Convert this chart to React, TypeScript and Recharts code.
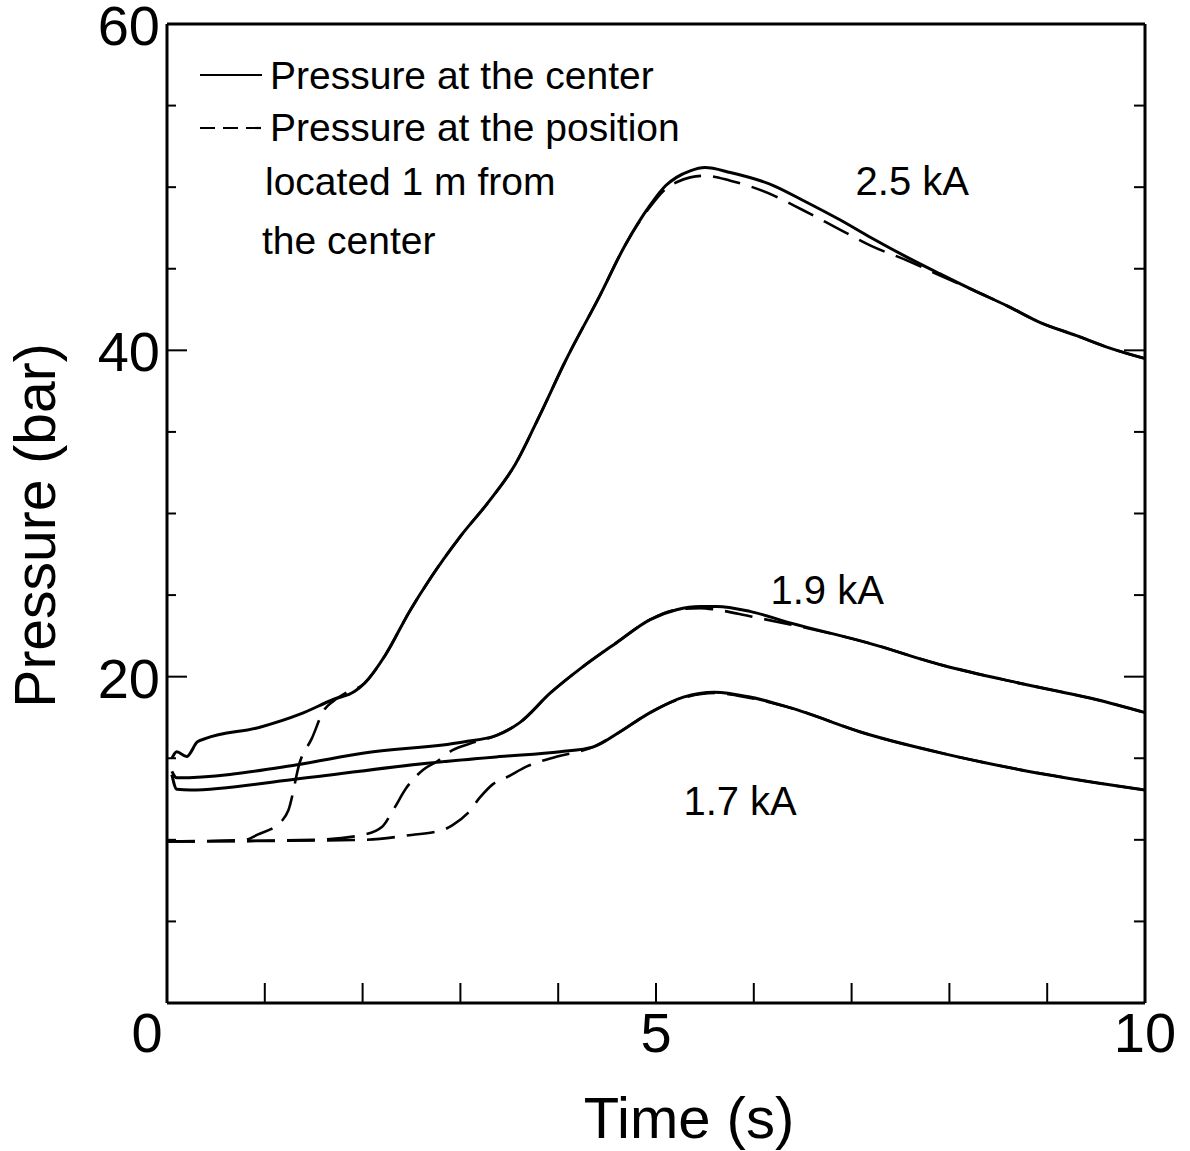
import { LineChart, Line, XAxis, YAxis, Legend, ReferenceDot, Label } from 'recharts';

const FONT = '"Liberation Sans", Arial, Helvetica, sans-serif';

// axis ticks
const timeTicks = [0, 1, 2, 3, 4, 5, 6, 7, 8, 9, 10];
const timeLabels = [0, 5, 10];
const pressureTicks = [0, 5, 10, 15, 20, 25, 30, 35, 40, 45, 50, 55, 60];
const pressureLabels = [20, 40, 60];

// pressure at the center (solid), t in s, p in bar
const center25 = [
    { t: 0.05, p: 15.0 }, { t: 0.1, p: 15.4 }, { t: 0.2, p: 15.1 }, { t: 0.31, p: 16.0 },
    { t: 0.39, p: 16.2 }, { t: 0.95, p: 16.9 }, { t: 1.36, p: 17.7 }, { t: 1.7, p: 18.6 },
    { t: 1.92, p: 19.1 }, { t: 2.02, p: 19.6 }, { t: 2.23, p: 21.3 }, { t: 2.48, p: 24.0 },
    { t: 2.69, p: 26.0 }, { t: 3.0, p: 28.6 }, { t: 3.3, p: 30.8 }, { t: 3.56, p: 33.0 },
    { t: 3.81, p: 36.0 }, { t: 4.07, p: 39.3 }, { t: 4.43, p: 43.4 }, { t: 4.68, p: 46.4 },
    { t: 4.94, p: 48.9 }, { t: 5.1, p: 50.1 }, { t: 5.21, p: 50.6 }, { t: 5.35, p: 51.0 },
    { t: 5.5, p: 51.2 }, { t: 5.76, p: 50.9 }, { t: 6.2, p: 50.1 }, { t: 6.5, p: 49.2 },
    { t: 6.88, p: 48.0 }, { t: 7.2, p: 46.9 }, { t: 7.57, p: 45.7 }, { t: 7.9, p: 44.7 },
    { t: 8.24, p: 43.7 }, { t: 8.6, p: 42.7 }, { t: 8.93, p: 41.7 }, { t: 9.3, p: 40.9 },
    { t: 9.61, p: 40.2 }, { t: 10.0, p: 39.5 },
];

const center19 = [
    { t: 0.05, p: 14.2 }, { t: 0.1, p: 13.8 }, { t: 1.33, p: 14.6 }, { t: 2.0, p: 15.3 },
    { t: 3.03, p: 16.0 }, { t: 3.37, p: 16.4 }, { t: 3.61, p: 17.2 }, { t: 3.92, p: 19.0 },
    { t: 4.25, p: 20.6 }, { t: 4.6, p: 22.1 }, { t: 4.94, p: 23.5 }, { t: 5.21, p: 24.1 },
    { t: 5.45, p: 24.3 }, { t: 5.62, p: 24.3 }, { t: 5.96, p: 24.0 }, { t: 6.37, p: 23.3 },
    { t: 7.15, p: 22.1 }, { t: 7.93, p: 20.7 }, { t: 8.72, p: 19.6 }, { t: 9.5, p: 18.6 },
    { t: 10.0, p: 17.8 },
];

const center17 = [
    { t: 0.05, p: 14.0 }, { t: 0.1, p: 13.1 }, { t: 0.24, p: 13.05 }, { t: 1.29, p: 13.7 },
    { t: 2.66, p: 14.7 }, { t: 3.4, p: 15.1 }, { t: 4.02, p: 15.4 }, { t: 4.36, p: 15.7 },
    { t: 4.6, p: 16.5 }, { t: 4.94, p: 17.8 }, { t: 5.28, p: 18.75 }, { t: 5.6, p: 19.05 },
    { t: 5.96, p: 18.75 }, { t: 6.37, p: 18.1 }, { t: 7.15, p: 16.5 }, { t: 7.93, p: 15.3 },
    { t: 8.72, p: 14.3 }, { t: 9.5, p: 13.5 }, { t: 10.0, p: 13.05 },
];

// pressure 1 m from the center (dashed)
const offset25 = [
    { t: 0.0, p: 9.9 }, { t: 0.8, p: 10.0 }, { t: 0.92, p: 10.3 }, { t: 1.18, p: 11.2 },
    { t: 1.24, p: 11.8 }, { t: 1.36, p: 14.8 }, { t: 1.48, p: 16.2 }, { t: 1.6, p: 17.9 },
    { t: 1.7, p: 18.5 }, { t: 1.8, p: 18.9 }, { t: 2.02, p: 19.6 }, { t: 2.23, p: 21.3 },
    { t: 2.48, p: 24.0 }, { t: 2.69, p: 26.0 }, { t: 3.0, p: 28.6 }, { t: 3.3, p: 30.8 },
    { t: 3.56, p: 33.0 }, { t: 3.81, p: 36.0 }, { t: 4.07, p: 39.3 }, { t: 4.43, p: 43.4 },
    { t: 4.68, p: 46.4 }, { t: 4.94, p: 48.8 }, { t: 5.1, p: 49.9 }, { t: 5.21, p: 50.3 },
    { t: 5.35, p: 50.6 }, { t: 5.5, p: 50.7 }, { t: 5.76, p: 50.4 }, { t: 6.2, p: 49.5 },
    { t: 6.5, p: 48.6 }, { t: 6.88, p: 47.4 }, { t: 7.2, p: 46.4 }, { t: 7.57, p: 45.5 },
    { t: 7.9, p: 44.6 }, { t: 8.24, p: 43.7 }, { t: 8.6, p: 42.7 }, { t: 8.93, p: 41.7 },
    { t: 9.3, p: 40.9 }, { t: 9.61, p: 40.2 }, { t: 10.0, p: 39.5 },
];

const offset19 = [
    { t: 0.0, p: 9.9 }, { t: 1.5, p: 10.0 }, { t: 2.0, p: 10.3 }, { t: 2.2, p: 10.8 },
    { t: 2.31, p: 11.8 }, { t: 2.45, p: 13.2 }, { t: 2.62, p: 14.3 }, { t: 2.76, p: 14.8 },
    { t: 2.92, p: 15.5 }, { t: 3.1, p: 15.9 }, { t: 3.37, p: 16.4 }, { t: 3.61, p: 17.2 },
    { t: 3.92, p: 19.0 }, { t: 4.25, p: 20.6 }, { t: 4.6, p: 22.1 }, { t: 4.94, p: 23.5 },
    { t: 5.21, p: 24.1 }, { t: 5.45, p: 24.2 }, { t: 5.62, p: 24.1 }, { t: 5.96, p: 23.7 },
    { t: 6.37, p: 23.2 }, { t: 7.15, p: 22.1 }, { t: 7.93, p: 20.7 }, { t: 8.72, p: 19.6 },
    { t: 9.5, p: 18.6 }, { t: 10.0, p: 17.8 },
];

const offset17 = [
    { t: 0.0, p: 9.9 }, { t: 2.0, p: 10.0 }, { t: 2.5, p: 10.3 }, { t: 2.82, p: 10.6 },
    { t: 2.92, p: 10.9 }, { t: 3.07, p: 11.6 }, { t: 3.2, p: 12.6 }, { t: 3.33, p: 13.4 },
    { t: 3.48, p: 13.85 }, { t: 3.68, p: 14.5 }, { t: 3.99, p: 15.1 }, { t: 4.36, p: 15.7 },
    { t: 4.6, p: 16.5 }, { t: 4.94, p: 17.8 }, { t: 5.28, p: 18.7 }, { t: 5.6, p: 19.0 },
    { t: 5.96, p: 18.7 }, { t: 6.37, p: 18.1 }, { t: 7.15, p: 16.5 }, { t: 7.93, p: 15.3 },
    { t: 8.72, p: 14.3 }, { t: 9.5, p: 13.5 }, { t: 10.0, p: 13.05 },
];

// curve annotations (data coordinates)
const notes = [
    { label: '2.5 kA', t: 7.62, p: 50.4 },
    { label: '1.9 kA', t: 6.75, p: 25.3 },
    { label: '1.7 kA', t: 5.86, p: 12.4 },
];

const dashedSeries = [offset25, offset19, offset17];
const solidSeries = [center25, center19, center17];

const frame = { stroke: '#000', strokeWidth: 3 };

const BottomTick = ({ x, y, payload }: any) => {
    const v = payload.value;
    return (
        <g>
            {v > 0 && v < 10 && <line x1={x} y1={y} x2={x} y2={y - 20} stroke="#000" strokeWidth={2} />}
            {timeLabels.includes(v) && (
                <text x={v === 0 ? x - 20 : x} y={y + 49} textAnchor="middle" fontSize={56} fontFamily={FONT} fill="#000">
                    {v}
                </text>
            )}
        </g>
    );
};

const TopTick = ({ x, y, payload }: any) => {
    const v = payload.value;
    if (v <= 0 || v >= 10) return <g />;
    return <line x1={x} y1={y} x2={x} y2={y + 18} stroke="#000" strokeWidth={2} />;
};

const LeftTick = ({ x, y, payload }: any) => {
    const v = payload.value;
    const major = v % 20 === 0;
    return (
        <g>
            {v > 0 && v < 60 && <line x1={x} y1={y} x2={x + (major ? 20 : 9)} y2={y} stroke="#000" strokeWidth={2} />}
            {pressureLabels.includes(v) && (
                <text x={x - 7} y={y + 21} textAnchor="end" fontSize={56} fontFamily={FONT} fill="#000">
                    {v}
                </text>
            )}
        </g>
    );
};

const RightTick = ({ x, y, payload }: any) => {
    const v = payload.value;
    if (v <= 0 || v >= 60) return <g />;
    const major = v % 20 === 0;
    return <line x1={x} y1={y} x2={x - (major ? 21 : 11)} y2={y} stroke="#000" strokeWidth={2} />;
};

const TimeTitle = ({ viewBox }: any) => (
    <text x={viewBox.x + viewBox.width / 2 + 33} y={viewBox.y + 135} textAnchor="middle" fontSize={58} fontFamily={FONT} fill="#000">
        Time (s)
    </text>
);

const PressureTitle = ({ viewBox }: any) => {
    const cx = 55;
    const cy = viewBox.y + viewBox.height / 2 + 12;
    return (
        <text x={cx} y={cy} transform={`rotate(-90, ${cx}, ${cy})`} textAnchor="middle" fontSize={57} fontFamily={FONT} fill="#000">
            Pressure (bar)
        </text>
    );
};

const LegendBox = () => (
    <svg width={520} height={230} style={{ display: 'block', overflow: 'visible' }}>
        <g fontFamily={FONT} fontSize={39} fill="#000">
            <line x1={10} y1={30} x2={72} y2={30} stroke="#000" strokeWidth={2.2} />
            <text x={80} y={44}>Pressure at the center</text>
            <line x1={10} y1={83} x2={72} y2={83} stroke="#000" strokeWidth={2.2} strokeDasharray="15 8" />
            <text x={80} y={96}>Pressure at the position</text>
            <text x={75} y={150}>located 1 m from</text>
            <text x={72} y={209}>the center</text>
        </g>
    </svg>
);

const App = () => {
    return (
        <div style={{ position: 'absolute', left: 0, top: 0, width: 1190, height: 1151, background: '#fff' }}>
            <LineChart width={1190} height={1151} margin={{ top: 18, right: 39, bottom: 8, left: 0 }}>
                <XAxis
                    xAxisId="bottom"
                    dataKey="t"
                    type="number"
                    domain={[0, 10]}
                    ticks={timeTicks}
                    interval={0}
                    height={140}
                    tickSize={0}
                    tickMargin={0}
                    tickLine={false}
                    tick={BottomTick}
                    axisLine={frame}
                    allowDataOverflow
                >
                    <Label content={TimeTitle} />
                </XAxis>
                <XAxis
                    xAxisId="top"
                    orientation="top"
                    type="number"
                    domain={[0, 10]}
                    ticks={timeTicks}
                    interval={0}
                    height={6}
                    tickSize={0}
                    tickMargin={0}
                    tickLine={false}
                    tick={TopTick}
                    axisLine={frame}
                    allowDataOverflow
                />
                <YAxis
                    yAxisId="left"
                    type="number"
                    domain={[0, 60]}
                    ticks={pressureTicks}
                    interval={0}
                    width={167}
                    tickSize={0}
                    tickMargin={0}
                    tickLine={false}
                    tick={LeftTick}
                    axisLine={frame}
                    allowDataOverflow
                >
                    <Label content={PressureTitle} />
                </YAxis>
                <YAxis
                    yAxisId="right"
                    orientation="right"
                    type="number"
                    domain={[0, 60]}
                    ticks={pressureTicks}
                    interval={0}
                    width={6}
                    tickSize={0}
                    tickMargin={0}
                    tickLine={false}
                    tick={RightTick}
                    axisLine={frame}
                    allowDataOverflow
                />
                <Legend
                    layout="horizontal"
                    align="center"
                    verticalAlign="middle"
                    content={LegendBox}
                    wrapperStyle={{ position: 'absolute', left: 190, top: 45, width: 520, height: 230 }}
                />
                {dashedSeries.map((d, i) => (
                    <Line
                        key={`dashed-${i}`}
                        xAxisId="bottom"
                        yAxisId="left"
                        data={d}
                        dataKey="p"
                        type="monotone"
                        stroke="#000"
                        strokeWidth={2.6}
                        strokeDasharray="28 12"
                        dot={false}
                        activeDot={false}
                        legendType="none"
                        isAnimationActive={false}
                    />
                ))}
                {solidSeries.map((d, i) => (
                    <Line
                        key={`solid-${i}`}
                        xAxisId="bottom"
                        yAxisId="left"
                        data={d}
                        dataKey="p"
                        type="monotone"
                        stroke="#000"
                        strokeWidth={3}
                        dot={false}
                        activeDot={false}
                        legendType="none"
                        isAnimationActive={false}
                    />
                ))}
                {notes.map((n) => (
                    <ReferenceDot
                        key={n.label}
                        xAxisId="bottom"
                        yAxisId="left"
                        x={n.t}
                        y={n.p}
                        r={0}
                        fill="none"
                        stroke="none"
                        label={{ value: n.label, position: 'center', fontSize: 40, fontFamily: FONT, fill: '#000' }}
                    />
                ))}
            </LineChart>
        </div>
    );
};

export default App;
